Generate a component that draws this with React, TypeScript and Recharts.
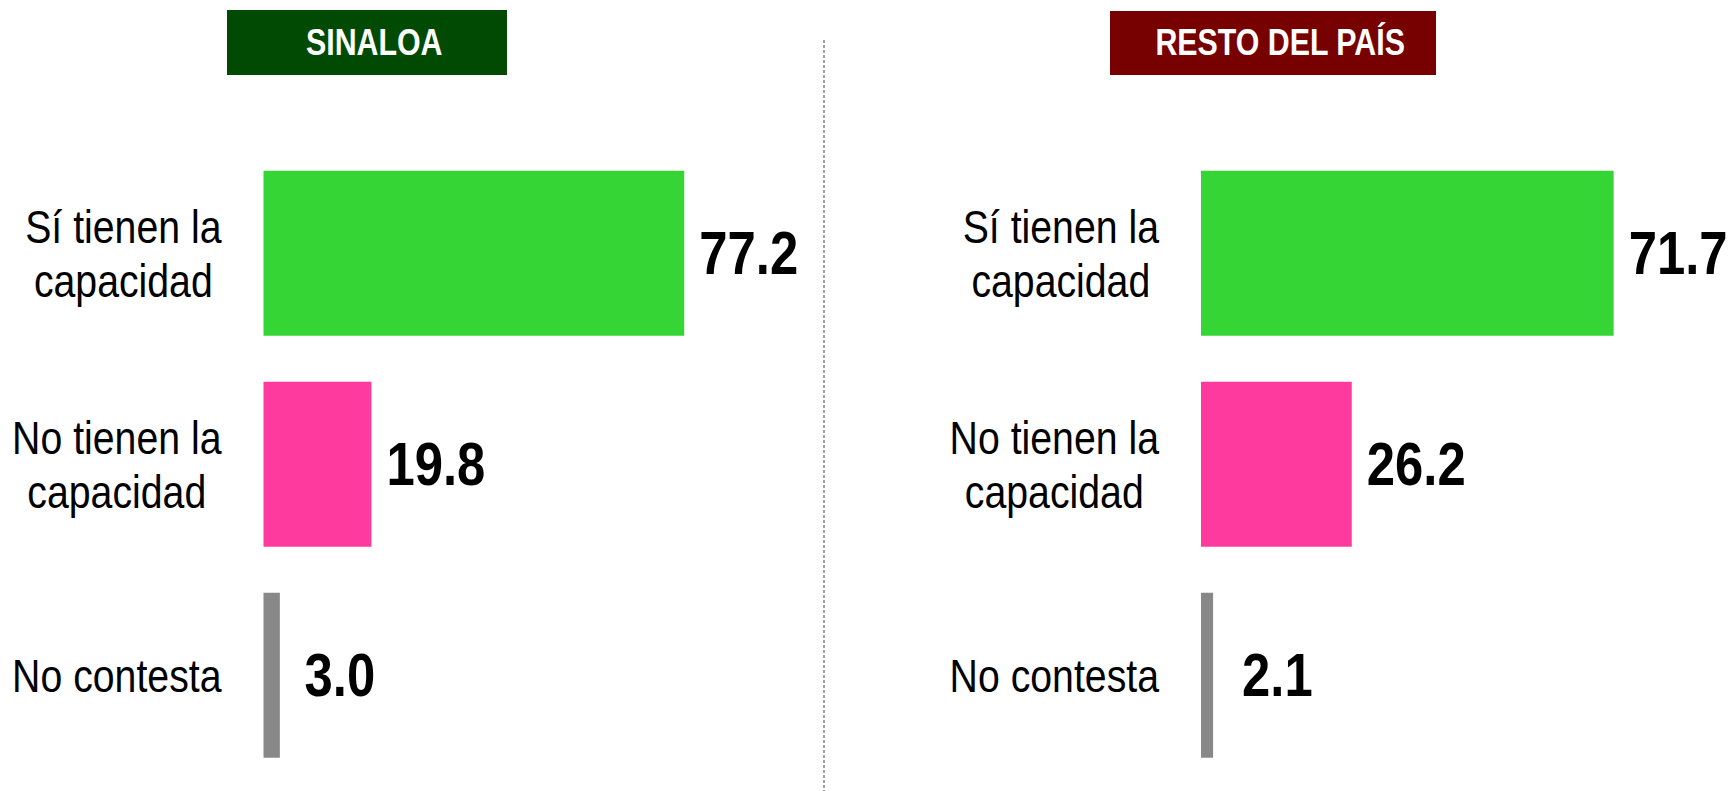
import React from 'react';
import { BarChart, Bar, XAxis, YAxis, Cell, LabelList } from 'recharts';

const categories = ['Sí tienen la capacidad', 'No tienen la capacidad', 'No contesta'];
const categoryLines: string[][] = [['Sí tienen la', 'capacidad'], ['No tienen la', 'capacidad'], ['No contesta']];
const sinaloaValues = [77.2, 19.8, 3.0];
const restoValues = [71.7, 26.2, 2.1];
const barColors = ['#35D535', '#FF3A9F', '#888888'];
const panelTitles = ['SINALOA', 'RESTO DEL PAÍS'];

const FONT = "'Liberation Sans', Arial, sans-serif";
const SQUEEZE = 0.82;
const CAT_SQUEEZE = 0.835;
const CAT_SIZE = 47;
const VAL_SIZE = 62;

let canvasCtx: CanvasRenderingContext2D | null = null;
function measure(text: string, size: number, squeeze: number, bold = false): number {
  if (!canvasCtx) {
    const c = document.createElement('canvas');
    canvasCtx = c.getContext('2d');
  }
  if (!canvasCtx) return text.length * size * 0.5 * squeeze;
  canvasCtx.font = `${bold ? 'bold ' : ''}${size}px ${FONT}`;
  return canvasCtx.measureText(text).width * squeeze;
}

function buildData(values: number[]) {
  return categories.map((name, i) => ({ name, value: values[i] }));
}

const NarrowText = ({ x, y, anchor, size, bold, squeeze, children }: any) => (
  <g transform={`translate(${x},${y}) scale(${squeeze ?? SQUEEZE},1)`}>
    <text
      x={0}
      y={0}
      textAnchor={anchor || 'start'}
      fontFamily={FONT}
      fontSize={size}
      fontWeight={bold ? 'bold' : 'normal'}
      fill="#000"
    >
      {children}
    </text>
  </g>
);

const CategoryTick = (props: any) => {
  const { y, payload, right } = props;
  const idx = categories.indexOf(payload.value);
  const lines = idx >= 0 ? categoryLines[idx] : [payload.value];
  const maxW = Math.max(...lines.map((l) => measure(l, CAT_SIZE, CAT_SQUEEZE)));
  const cx = right - maxW / 2;
  const lineH = 54;
  const capH = CAT_SIZE * 0.716;
  const blockH = capH + (lines.length - 1) * lineH;
  const firstBaseline = y - blockH / 2 + capH;
  return (
    <g>
      {lines.map((l, i) => (
        <NarrowText key={i} x={cx} y={firstBaseline + i * lineH} anchor="middle" size={CAT_SIZE} squeeze={CAT_SQUEEZE}>
          {l}
        </NarrowText>
      ))}
    </g>
  );
};

const ValueLabel = (props: any) => {
  const { x, y, width, height, value } = props;
  const lx = Math.max(x + width + 15, x + 41);
  return (
    <NarrowText x={lx} y={y + height / 2 + 21} size={VAL_SIZE} bold>
      {Number(value).toFixed(1)}
    </NarrowText>
  );
};

type PanelProps = {
  values: number[];
  left: number;
  width: number;
  axisWidth: number;
  domainMax: number;
  plotWidth: number;
};

const Panel = ({ values, left, width, axisWidth, domainMax, plotWidth }: PanelProps) => {
  const data = buildData(values);
  return (
    <div style={{ position: 'absolute', left, top: 0 }}>
      <BarChart
        width={width}
        height={791}
        data={data}
        layout="vertical"
        margin={{ top: 147.5, bottom: 10.5, left: 0, right: width - axisWidth - plotWidth }}
        barCategoryGap="11%"
      >
        <XAxis type="number" domain={[0, domainMax]} hide />
        <YAxis
          type="category"
          dataKey="name"
          width={axisWidth}
          axisLine={false}
          tickLine={false}
          interval={0}
          tick={(p: any) => <CategoryTick {...p} right={axisWidth - 42} />}
        />
        <Bar dataKey="value" isAnimationActive={false}>
          {data.map((d, i) => (
            <Cell key={d.name} fill={barColors[i]} />
          ))}
          <LabelList dataKey="value" content={<ValueLabel />} />
        </Bar>
      </BarChart>
    </div>
  );
};

const titleStyle = (left: number, top: number, w: number, h: number, bg: string): React.CSSProperties => ({
  position: 'absolute',
  left,
  top,
  width: w,
  height: h,
  background: bg,
  display: 'flex',
  alignItems: 'center',
  justifyContent: 'center',
  paddingLeft: 14,
  boxSizing: 'border-box',
});

const titleText: React.CSSProperties = {
  color: '#fff',
  fontFamily: FONT,
  fontWeight: 'bold',
  fontSize: 37,
  display: 'inline-block',
  transform: `scaleX(${SQUEEZE})`,
  whiteSpace: 'nowrap',
};

export default function App() {
  return (
    <div style={{ position: 'absolute', left: 0, top: 0, width: 1736, height: 791, background: '#fff', overflow: 'hidden' }}>
      <Panel values={sinaloaValues} left={0} width={824} axisWidth={263.5} domainMax={100} plotWidth={545} />
      <Panel values={restoValues} left={824} width={912} axisWidth={377} domainMax={80} plotWidth={460.4} />
      <svg style={{ position: 'absolute', left: 0, top: 0 }} width={1736} height={791}>
        <line x1={824} x2={824} y1={40} y2={791} stroke="#666" strokeWidth={1.2} strokeDasharray="3 2" />
      </svg>
      <div style={titleStyle(227, 10, 280, 65, '#004A04')}>
        <span style={titleText}>{panelTitles[0]}</span>
      </div>
      <div style={titleStyle(1110, 11, 326, 64, '#770000')}>
        <span style={titleText}>{panelTitles[1]}</span>
      </div>
    </div>
  );
}
